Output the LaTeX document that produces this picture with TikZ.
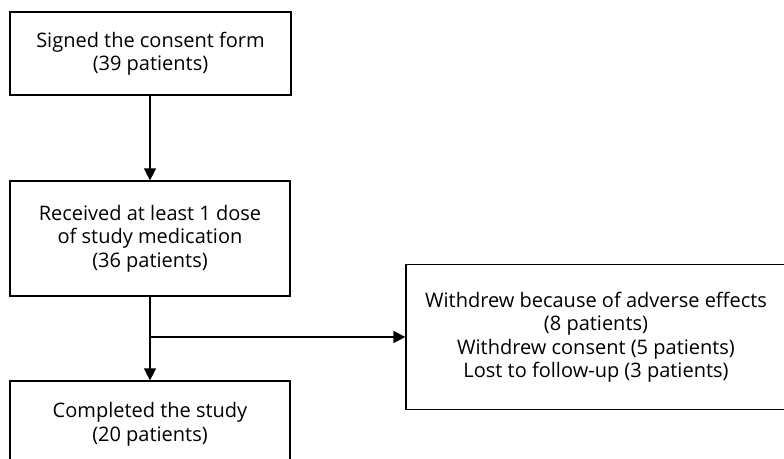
\documentclass[tikz,border=0pt]{standalone}
\usepackage{fontspec}
\setmainfont{Open Sans}
\usetikzlibrary{arrows.meta}
\tikzset{box/.style = {draw, line width=1.2pt, align=center, inner sep=0pt,
                       font=\fontsize{20}{23.5}\selectfont},
         flow/.style = {line width=1.2pt, -{Triangle[length=12pt, width=12pt]}}}

\begin{document}
\begin{tikzpicture}[x=1pt, y=-1pt]
    \clip (0, 0) rectangle (784, 458);

    \node [box, minimum width=281pt, minimum height=83pt] (signed) at (150.5, 53.5)
      {Signed the consent form\\(39 patients)};
    \node [box, minimum width=280pt, minimum height=115pt] (received) at (150, 238.5)
      {Received at least 1 dose\\of study medication\\(36 patients)};
    \node [box, minimum width=280pt, minimum height=87pt] (completed) at (150, 424.5)
      {Completed the study\\(20 patients)};
    \node [box, minimum width=380pt, minimum height=145pt] (withdrew) at (596, 337)
      {Withdrew because of adverse effects\\(8 patients)\\Withdrew consent (5 patients)\\Lost to follow-up (3 patients)};

    \coordinate (split) at (received.south |- withdrew.west);

    \draw [flow] (signed.south -| received.north) -- (received.north);
    \draw [flow] (received.south) -- (completed.north);
    \draw [flow] (split) -- (withdrew.west);

\end{tikzpicture}
\end{document}
